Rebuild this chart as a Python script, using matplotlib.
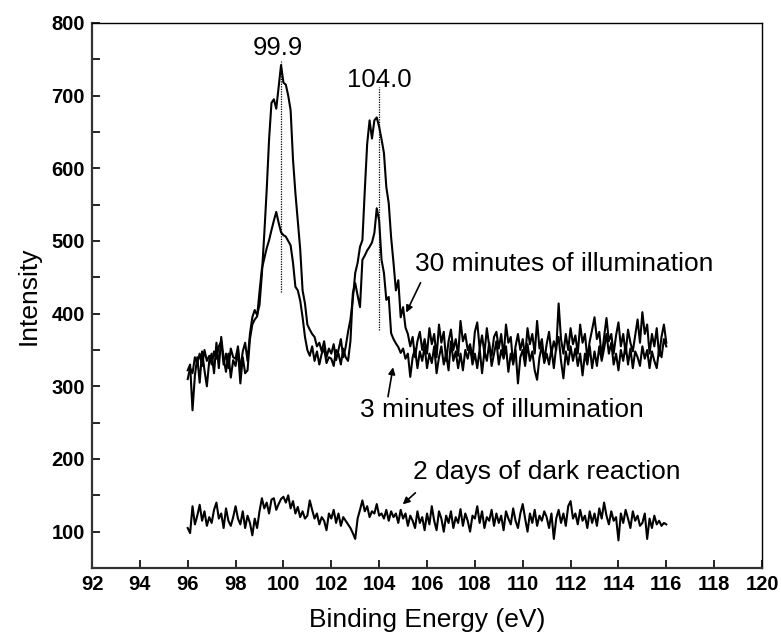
import numpy as np
import matplotlib
matplotlib.use('Agg')
import matplotlib.pyplot as plt

# XPS Si 2p spectra, sampled every 0.1 eV from 96.0 to 116.0 eV
energy = np.round(np.arange(960, 1161) / 10.0, 1)

# 30 minutes of illumination
y_30min = [
    310, 325, 318, 340, 332, 345, 328, 350, 335, 342,
    330, 348, 338, 355, 362, 330, 345, 325, 352, 340,
    338, 355, 322, 348, 360, 335, 372, 395, 405, 398,
    412, 455, 510, 570, 640, 690, 695, 682, 712, 742,
    718, 715, 700, 680, 612, 566, 528, 489, 432, 414,
    385, 378, 372, 368, 355, 360, 348, 362, 340, 352,
    345, 358, 336, 350, 365, 340, 354, 375, 392, 420,
    456, 470, 492, 501, 570, 634, 666, 641, 666, 670,
    657, 640, 621, 574, 552, 505, 470, 432, 446, 395,
    409, 381, 372, 355, 368, 340, 362, 375, 350, 365,
    345, 380, 358, 372, 340, 385, 360, 375, 335, 362,
    378, 350, 365, 342, 390, 362, 372, 350, 358, 338,
    375, 388, 352, 370, 345, 380, 355, 342, 368, 375,
    352, 372, 340, 385, 360, 368, 330, 355, 372, 350,
    365, 340, 380, 358, 372, 345, 390, 352, 365, 335,
    358, 375, 345, 362, 350, 414, 365, 345, 372, 350,
    380, 358, 370, 345, 385, 360, 372, 338, 362, 378,
    395, 365, 375, 340, 368, 394, 362, 372, 345, 370,
    388, 355, 372, 345, 378, 360, 348, 370, 392, 360,
    402, 372, 385, 345, 372, 355, 380, 342, 368, 385,
    360,
]

# 3 minutes of illumination
y_3min = [
    322, 330, 267, 315, 340, 305, 348, 322, 300, 335,
    345, 318, 360, 325, 368, 338, 320, 345, 312, 336,
    328, 350, 304, 340, 318, 322, 365, 385, 392, 396,
    430, 462, 476, 490, 501, 515, 528, 540, 525, 512,
    508, 506, 500, 494, 470, 437, 432, 418, 395, 368,
    350, 342, 355, 335, 348, 330, 345, 352, 332, 340,
    338, 328, 350, 345, 330, 352, 340, 335, 362, 428,
    442, 425, 409, 474, 480, 487, 492, 498, 511, 545,
    528, 474, 456, 419, 423, 373, 365, 359, 354, 346,
    352, 338, 345, 313, 340, 352, 325, 348, 335, 355,
    325, 345, 332, 355, 318, 340, 355, 330, 345, 322,
    362, 335, 348, 325, 345, 322, 350, 338, 355, 330,
    345, 325, 352, 318, 348, 335, 360, 328, 345, 362,
    330, 350, 338, 355, 320, 345, 332, 350, 304, 340,
    350, 328, 358, 335, 348, 322, 309, 340, 355, 332,
    345, 330, 352, 325, 355, 368, 335, 311, 348, 330,
    355, 335, 352, 328, 345, 315, 345, 330, 355, 325,
    348, 328, 355, 335, 352, 372, 345, 360, 330, 345,
    322, 350, 335, 358, 330, 352, 325, 348, 340, 328,
    355, 338, 350, 325, 348, 335, 325, 352, 340, 365,
    355,
]

# 2 days of dark reaction
y_dark = [
    105, 98, 135, 110, 122, 137, 115, 128, 108, 120,
    112, 130, 140, 118, 125, 105, 132, 115, 108, 120,
    135, 118, 110, 128, 105, 122, 112, 95, 118, 105,
    128, 146, 132, 140, 125, 144, 146, 130, 138, 145,
    148, 140, 150, 132, 142, 125, 134, 120, 128, 118,
    122, 143, 130, 118, 125, 110, 120, 115, 102, 125,
    118, 130, 112, 125, 108, 120, 115, 110, 105, 98,
    90, 118, 130, 143, 128, 135, 120, 128, 125, 138,
    122, 125, 118, 130, 115, 128, 120, 125, 112, 130,
    118, 125, 108, 122, 115, 105, 128, 112, 120, 102,
    125, 110, 135, 115, 102, 128, 118, 100, 122, 112,
    128, 105, 120, 112, 131, 108, 125, 115, 100, 122,
    118, 135, 112, 128, 105, 120, 115, 130, 108, 125,
    112, 122, 102, 128, 118, 110, 132, 115, 105, 125,
    138, 118, 100, 125, 112, 130, 108, 122, 115, 128,
    120, 105, 125, 90, 118, 130, 112, 125, 108, 135,
    142, 118, 125, 110, 130, 115, 122, 105, 128, 112,
    125, 108, 132, 118, 140, 122, 110, 128, 115, 120,
    88, 125, 112, 130, 118, 105, 128, 115, 122, 108,
    112, 125, 90, 118, 105, 122, 110, 115, 108, 112,
    110,
]

# peak positions (eV) and the span of their marker lines
peak_pos = [99.9, 104.0]
peak_labels = ['99.9', '104.0']
peak_line_lo = [430, 377]
peak_line_hi = [748, 712]
peak_label_xy = [(99.78, 765), (104.0, 722)]

plt.rcParams['font.family'] = ['Liberation Sans', 'DejaVu Sans']

fig = plt.figure(figsize=(7.81, 6.33), dpi=100)
ax = fig.add_axes([0.1178, 0.1027, 0.8579, 0.861])

for y in (y_30min, y_3min, y_dark):
    ax.plot(energy, y, color='black', linewidth=1.5)

# dotted markers at the peak maxima
for xp, lo, hi in zip(peak_pos, peak_line_lo, peak_line_hi):
    ax.plot([xp, xp], [lo, hi], color='black', linestyle=(0, (1, 1)), linewidth=0.9)
for lab, (xl, yl) in zip(peak_labels, peak_label_xy):
    ax.text(xl, yl, lab, ha='center', va='center', fontsize=18.5)

arrow = dict(arrowstyle='-|>', color='black', lw=1.2, mutation_scale=10)
ax.text(105.5, 469, '30 minutes of illumination', ha='left', va='center', fontsize=19)
ax.annotate('', xy=(105.08, 398), xytext=(105.78, 446), arrowprops=arrow)
ax.text(103.2, 268, '3 minutes of illumination', ha='left', va='center', fontsize=19)
ax.annotate('', xy=(104.6, 330), xytext=(104.35, 282), arrowprops=arrow)
ax.text(105.4, 182, '2 days of dark reaction', ha='left', va='center', fontsize=19)
ax.annotate('', xy=(104.9, 135), xytext=(105.6, 156), arrowprops=arrow)

ax.set_xlim(92, 120)
ax.set_ylim(50, 800)
ax.set_xticks(np.arange(92, 121, 2))
ax.set_yticks(np.arange(100, 801, 100))
ax.set_yticks(np.arange(150, 800, 100), minor=True)
ax.tick_params(axis='both', which='both', direction='in', length=6, width=1.2,
               labelsize=14.5, pad=5)
for lab in ax.get_xticklabels() + ax.get_yticklabels():
    lab.set_fontweight('bold')

for side in ('left', 'bottom'):
    ax.spines[side].set_linewidth(1.6)
    ax.spines[side].set_color('#333333')
for side in ('top', 'right'):
    ax.spines[side].set_linewidth(1.0)

ax.set_xlabel('Binding Energy (eV)', fontsize=19, labelpad=10)
ax.set_ylabel('Intensity', fontsize=19, labelpad=8)

fig.savefig('out.png', dpi=100)
